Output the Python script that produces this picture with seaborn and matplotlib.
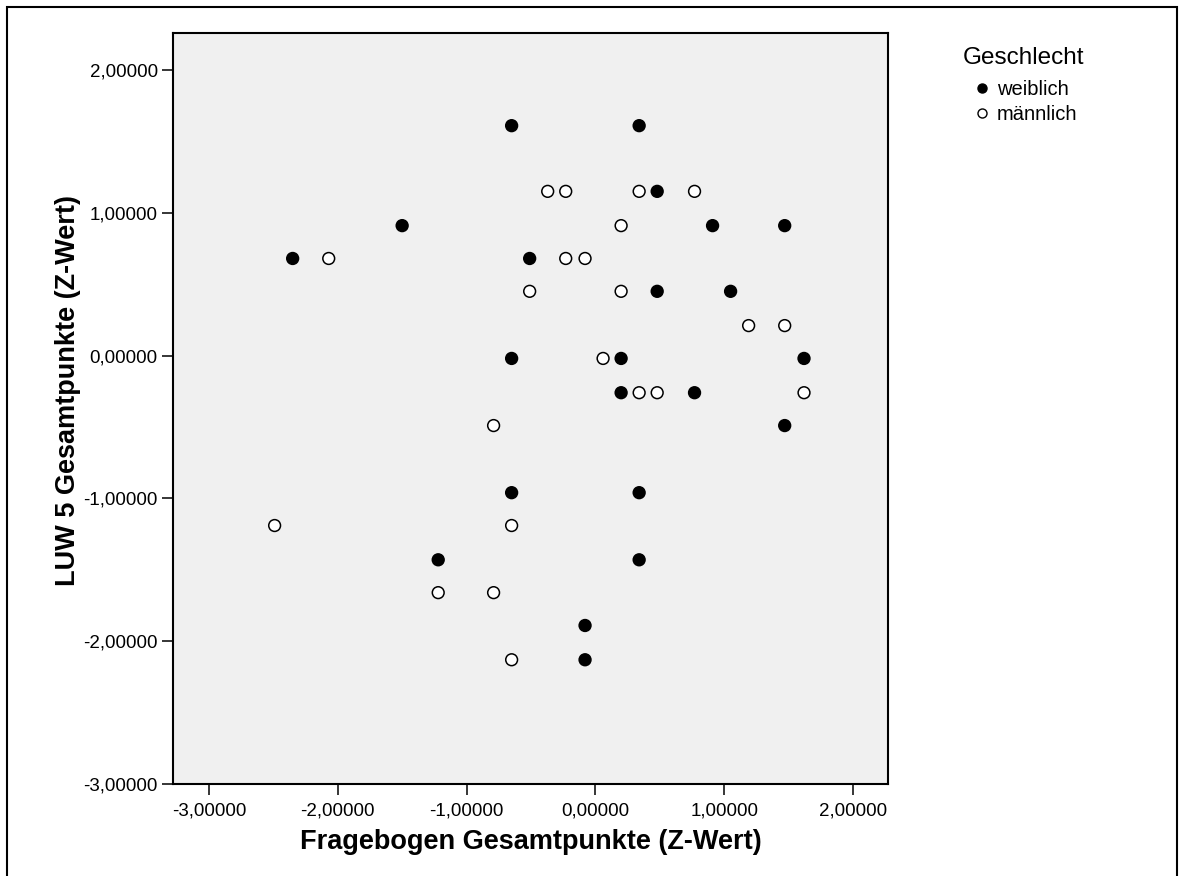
import matplotlib
matplotlib.use('Agg')
import matplotlib.pyplot as plt
import seaborn as sns
import pandas as pd
from matplotlib.lines import Line2D
from matplotlib.patches import Rectangle
from matplotlib.ticker import FuncFormatter

# Z-Werte, weiblich (gefuellte Punkte)
x_weiblich = [-0.65, 0.34, 0.48, -1.50, 0.91, 1.47, -2.35, -0.51, 0.48, 1.05, -0.65,
              0.20, 1.62, 0.20, 0.77, 1.47, -0.65, 0.34, -1.22, 0.34, -0.08, -0.08]
y_weiblich = [1.61, 1.61, 1.15, 0.91, 0.91, 0.91, 0.68, 0.68, 0.45, 0.45, -0.02,
              -0.02, -0.02, -0.26, -0.26, -0.49, -0.96, -0.96, -1.43, -1.43, -1.89, -2.13]

# Z-Werte, maennlich (offene Punkte)
x_maennlich = [-0.37, -0.23, 0.34, 0.77, 0.20, -2.07, -0.23, -0.08, -0.51, 0.20, 1.19,
               1.47, 0.06, 0.34, 0.48, 1.62, -0.79, -2.49, -0.65, -1.22, -0.79, -0.65]
y_maennlich = [1.15, 1.15, 1.15, 1.15, 0.91, 0.68, 0.68, 0.68, 0.45, 0.45, 0.21,
               0.21, -0.02, -0.26, -0.26, -0.26, -0.49, -1.19, -1.19, -1.66, -1.66, -2.13]

groups = ['weiblich', 'männlich']
x_ticks = [-3, -2, -1, 0, 1, 2]
y_ticks = [-3, -2, -1, 0, 1, 2]

w = pd.DataFrame({'x': x_weiblich, 'y': y_weiblich, 'Geschlecht': groups[0]})
m = pd.DataFrame({'x': x_maennlich, 'y': y_maennlich, 'Geschlecht': groups[1]})
df = pd.concat([w, m], ignore_index=True)

sns.set_theme(style='ticks')
plt.rcParams['font.family'] = ['Liberation Sans', 'DejaVu Sans']
plt.rcParams['text.color'] = 'black'
plt.rcParams['axes.labelcolor'] = 'black'
plt.rcParams['xtick.color'] = 'black'
plt.rcParams['ytick.color'] = 'black'

fig = plt.figure(figsize=(11.84, 8.76), dpi=100)
ax = fig.add_axes([173/1184, 1-784/876, 715/1184, 751.3/876])
ax.set_facecolor('#f0f0f0')

sns.scatterplot(data=df, x='x', y='y', hue='Geschlecht',
                palette={'weiblich': 'black', 'männlich': 'white'},
                edgecolor='black', linewidth=1.1, s=72, legend=False, ax=ax, zorder=3)

ax.set_xlim(-3.279, 2.272)
ax.set_ylim(-3.0, 2.261)
ax.set_xticks(x_ticks)
ax.set_yticks(y_ticks)
fmt = FuncFormatter(lambda v, p: f"{v:.5f}".replace('.', ','))
ax.xaxis.set_major_formatter(fmt)
ax.yaxis.set_major_formatter(fmt)

for s in ax.spines.values():
     s.set_linewidth(1.5)
     s.set_color('black')
ax.tick_params(direction='out', length=8, width=1.1, labelsize=13.5, colors='black')
ax.tick_params(axis='x', pad=5)
ax.tick_params(axis='y', pad=3)

ax.set_xlabel('Fragebogen Gesamtpunkte (Z-Wert)', fontsize=19.5, fontweight='bold', color='black')
ax.set_ylabel('LUW 5 Gesamtpunkte (Z-Wert)', fontsize=19.5, fontweight='bold', color='black')
ax.xaxis.set_label_coords(0.5, -0.06)
ax.yaxis.set_label_coords(-0.129, 0.524)

# Legende: Titel separat, damit der Abstand wie im Original passt
fig.text(1023/1184, 1-58/876, 'Geschlecht', ha='center', va='center', fontsize=17.5, color='black')
handles = [Line2D([], [], marker='o', linestyle='', markerfacecolor='black',
                  markeredgecolor='black', markersize=6.5, mew=1.0),
           Line2D([], [], marker='o', linestyle='', markerfacecolor='white',
                  markeredgecolor='black', markersize=6.5, mew=1.0)]
fig.legend(handles, groups, loc='upper left',
           bbox_to_anchor=(973.7/1184, 1-80/876), frameon=False,
           fontsize=14.5, handletextpad=0.35, handlelength=0.8,
           labelspacing=0.28, borderpad=0, borderaxespad=0)

# Rahmen um die ganze Grafik
fig.add_artist(Rectangle((7/1184, -0.05), 1170/1184, 1.05-7/876,
                         transform=fig.transFigure, fill=False, lw=1.5, ec='black'))

fig.savefig('out.png', dpi=100)
